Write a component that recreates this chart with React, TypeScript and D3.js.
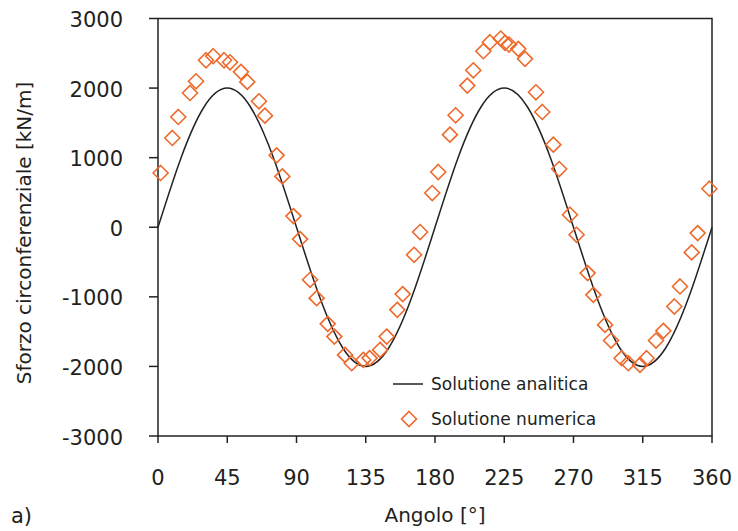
import React from "react";
import * as d3 from "d3";

const xTicks = [0, 45, 90, 135, 180, 225, 270, 315, 360];
const yTicks = [-3000, -2000, -1000, 0, 1000, 2000, 3000];

// Analytical solution sampled every 15°
const analyticAngles = [0, 15, 30, 45, 60, 75, 90, 105, 120, 135, 150, 165, 180, 195, 210, 225, 240, 255, 270, 285, 300, 315, 330, 345, 360];
const analyticValues = [0, 1000, 1732, 2000, 1732, 1000, 0, -1000, -1732, -2000, -1732, -1000, 0, 1000, 1732, 2000, 1732, 1000, 0, -1000, -1732, -2000, -1732, -1000, 0];

// Numerical solution
const numAngles = [1.7, 9.3, 13.2, 20.8, 24.7, 31.2, 35.9, 42.9, 46.8, 53.9, 58, 65.6, 69.5, 77.1, 80.8, 88, 92.3, 98.8, 103.1, 110.3, 114.6, 121.5, 125.9, 133.4, 137.5, 144.3, 148.6, 155.5, 159, 166.4, 170.3, 178.2, 182.1, 189.7, 193.4, 201, 204.9, 211.4, 215.7, 222.7, 225.5, 228.1, 234.1, 238.5, 245.6, 249.7, 256.9, 260.7, 267.7, 272, 279.2, 282.9, 290.5, 294.4, 301.3, 305.6, 313.2, 317.5, 323.6, 328.4, 335.5, 339.2, 346.8, 350.7, 358.3];
const numValues = [780, 1283, 1585, 1930, 2098, 2400, 2458, 2400, 2371, 2233, 2089, 1810, 1604, 1033, 731, 160, -170, -755, -1019, -1388, -1571, -1835, -1954, -1906, -1880, -1763, -1571, -1187, -961, -396, -69, 492, 794, 1331, 1609, 2036, 2256, 2530, 2659, 2712, 2650, 2626, 2564, 2420, 1940, 1657, 1187, 837, 180, -108, -659, -971, -1403, -1628, -1882, -1954, -1978, -1882, -1628, -1489, -1139, -851, -362, -84, 554];

const W = 738;
const H = 531;
const left = 158;
const right = 712;
const top = 18.5;
const bottom = 436;

const textColor = "#231f20";
const orange = "#ee6a2c";
const font = "'DejaVu Sans', sans-serif";

function diamond(cx: number, cy: number, r: number) {
  return `M${cx},${cy - r}L${cx + r},${cy}L${cx},${cy + r}L${cx - r},${cy}Z`;
}

export default function App() {
  const x = d3.scaleLinear().domain([0, 360]).range([left, right]);
  const y = d3.scaleLinear().domain([-3000, 3000]).range([bottom, top]);

  const line = d3
    .line<number>()
    .x((_, i) => x(analyticAngles[i]))
    .y((d) => y(d))
    .curve(d3.curveNatural);

  return (
    <svg width={W} height={H} style={{ position: "absolute", left: 0, top: 0, background: "#fff" }}>
      {/* frame */}
      <rect x={left} y={top} width={right - left} height={bottom - top} fill="none" stroke="#222" strokeWidth={1.5} />
      {/* y ticks */}
      {yTicks.map((t) => (
        <g key={"y" + t}>
          <line x1={left - 9} x2={left} y1={y(t)} y2={y(t)} stroke="#222" strokeWidth={1.5} />
          <text x={123} y={y(t) + 1} dy="0.36em" textAnchor="end" fontFamily={font} fontSize={21} fill={textColor}>
            {t}
          </text>
        </g>
      ))}
      {/* x ticks */}
      {xTicks.map((t) => (
        <g key={"x" + t}>
          <line x1={x(t)} x2={x(t)} y1={bottom} y2={bottom + 7} stroke="#222" strokeWidth={1.5} />
          <text x={x(t)} y={485} textAnchor="middle" fontFamily={font} fontSize={21} fill={textColor}>
            {t}
          </text>
        </g>
      ))}
      {/* analytic curve */}
      <path d={line(analyticValues) || ""} fill="none" stroke="#222" strokeWidth={1.5} />
      {/* numeric points */}
      {numValues.map((v, i) => (
        <path key={"p" + i} d={diamond(x(numAngles[i]), y(v), 7.5)} fill="none" stroke={orange} strokeWidth={1.6} />
      ))}
      {/* legend */}
      <line x1={393} x2={423} y1={384} y2={384} stroke="#222" strokeWidth={1.5} />
      <text x={431} y={384} dy="0.36em" fontFamily={font} fontSize={17} fill={textColor}>
        Solutione analitica
      </text>
      <path d={diamond(409, 419, 7.5)} fill="none" stroke={orange} strokeWidth={1.6} />
      <text x={431} y={419} dy="0.36em" fontFamily={font} fontSize={17} fill={textColor}>
        Solutione numerica
      </text>
      {/* axis titles */}
      <text x={(left + right) / 2} y={522} textAnchor="middle" fontFamily={font} fontSize={20} fill={textColor}>
        Angolo [°]
      </text>
      <text
        transform={`translate(31,233) rotate(-90)`}
        textAnchor="middle"
        fontFamily={font}
        fontSize={20}
        fill={textColor}
      >
        Sforzo circonferenziale [kN/m]
      </text>
      <text x={11} y={523} fontFamily={font} fontSize={21} fill={textColor}>
        a)
      </text>
    </svg>
  );
}
